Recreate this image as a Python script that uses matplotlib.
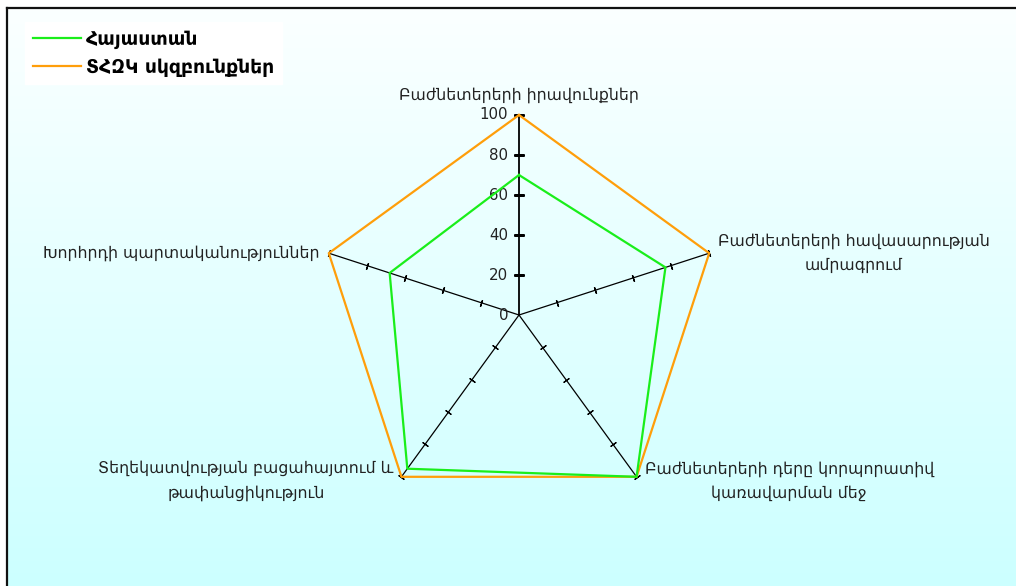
import numpy as np
import matplotlib
matplotlib.use("Agg")
import matplotlib.pyplot as plt
from matplotlib.lines import Line2D

plt.rcParams['font.family'] = ['DejaVu Sans']

categories = [
    "Բաժնետերերի իրավունքներ",
    "Բաժնետերերի հավասարության\nամրագրում",
    "Բաժնետերերի դերը կորպորատիվ\nկառավարման մեջ",
    "Տեղեկատվության բացահայտում և\nթափանցիկություն",
    "Խորհրդի պարտականություններ",
]
series_names = ["Հայաստան", "ՏՀԶԿ սկզբունքներ"]
armenia = [70, 77, 100, 95, 68]
oecd = [100, 100, 100, 100, 100]
r_ticks = [0, 20, 40, 60, 80, 100]
colors = ["#1aee1a", "#ff9e0a"]

W, H = 1016, 586
fig = plt.figure(figsize=(W / 100, H / 100), dpi=100)
fig.patch.set_facecolor("white")

# background panel with vertical gradient
bg = fig.add_axes([7 / W, 0, 1 - 7 / W, (H - 8) / H])
grad = np.linspace(0, 1, 256).reshape(-1, 1)
c_top = np.array([0.985, 1.0, 1.0])
c_bot = np.array([0.80, 1.0, 1.0])
img = c_top[None, None, :] * (1 - grad[:, :, None]) + c_bot[None, None, :] * grad[:, :, None]
bg.imshow(img, aspect="auto", extent=[0, 1, 0, 1], origin="upper")
bg.set_xlim(0, 1)
bg.set_ylim(0, 1)
bg.set_xticks([])
bg.set_yticks([])
for s in ["right", "bottom"]:
    bg.spines[s].set_visible(False)
for s in ["top", "left"]:
    bg.spines[s].set_linewidth(1.6)
    bg.spines[s].set_color("#111111")
bg.set_zorder(0)

# polar axes
cx, cy, R = 519, 315, 200
ax = fig.add_axes([(cx - R) / W, (H - cy - R) / H, 2 * R / W, 2 * R / H], projection="polar")
ax.set_zorder(1)
ax.patch.set_alpha(0)
ax.set_theta_zero_location("N")
ax.set_theta_direction(-1)
ax.set_ylim(0, 100)
ax.grid(False)
ax.spines["polar"].set_visible(False)
ax.set_xticks([])
ax.set_yticks([])

n = len(categories)
theta = np.arange(n) * 2 * np.pi / n

# spokes and ticks
for i, t in enumerate(theta):
    lw = 1.3 if i == 0 else 0.9
    ax.plot([t, t], [0, 100], color="black", lw=lw, zorder=2, clip_on=False)
    ang = 90 - np.degrees(t)
    if i == 0:
        ax.plot([t] * len(r_ticks[1:]), r_ticks[1:], linestyle="none",
                marker=(2, 2, ang), markersize=7, mew=1.8, color="black", zorder=2, clip_on=False)
    else:
        ax.plot([t] * len(r_ticks[1:]), r_ticks[1:], linestyle="none",
                marker=(2, 2, ang), markersize=5, mew=0.9, color="black", zorder=2, clip_on=False)

# tick labels on the top spoke
for v in r_ticks:
    ax.annotate(str(v), xy=(0, v), xytext=(-11, 0), textcoords="offset pixels",
                ha="right", va="center", fontsize=10.8, color="#222222")

# series
th_closed = np.append(theta, theta[0])
for vals, c, name in [(oecd, colors[1], series_names[1]), (armenia, colors[0], series_names[0])]:
    ax.plot(th_closed, np.append(vals, vals[0]), color=c, lw=1.6, zorder=3, clip_on=False)

# category labels
offs = [((0, 20), "center", "center"),
        ((9, 0), "left", "center"),
        ((8, -4), "left", "center"),
        ((-8, -4), "right", "center"),
        ((-9, 0), "right", "center")]
for t, lab, (off, ha, va) in zip(theta, categories, offs):
    ax.annotate(lab, xy=(t, 100), xytext=off, textcoords="offset pixels",
                ha=ha, va=va, multialignment="center", fontsize=11.3,
                color="#222222", linespacing=1.68)

handles = [Line2D([], [], color=colors[0], lw=1.6), Line2D([], [], color=colors[1], lw=1.6)]
leg = fig.legend(handles, series_names, loc="upper left",
                 bbox_to_anchor=(25 / W, 1 - 22 / H), frameon=True, fancybox=False,
                 facecolor="white", edgecolor="white", framealpha=1, borderaxespad=0,
                 prop={"size": 13.5, "weight": "bold"}, handlelength=2.6, handletextpad=0.27,
                 labelspacing=0.5, borderpad=0.4)
leg.set_zorder(5)

fig.savefig("out.png", dpi=100)
